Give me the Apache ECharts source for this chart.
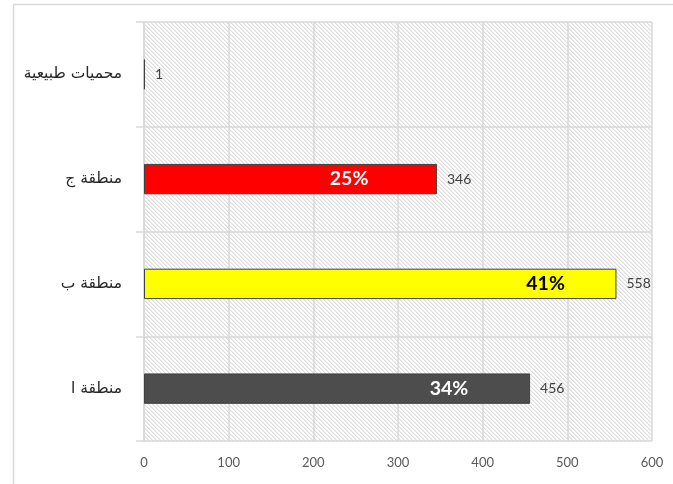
<!DOCTYPE html>
<html><head><meta charset="utf-8">
<script src="https://cdn.jsdelivr.net/npm/echarts@6/dist/echarts.min.js"></script>
<style>html,body{margin:0;padding:0;background:#fff}#c{width:673px;height:484px}</style>
</head><body><div id="c"></div>
<script>
const categories = ['منطقة ا', 'منطقة ب', 'منطقة ج', 'محميات طبيعية'];
const values = [456, 558, 346, 1];
const percents = ['34%', '41%', '25%', ''];
const xTicks = [0, 100, 200, 300, 400, 500, 600];

const barColors = ['#4d4d4d', '#ffff00', '#ff0000', '#7f7f7f'];
const pctColors = ['#ffffff', '#000000', '#ffffff', '#ffffff'];
const pctPos = [79, 85, 70, 0];

function hatch() {
  const c = document.createElement('canvas');
  c.width = 4; c.height = 4;
  const g = c.getContext('2d');
  g.fillStyle = '#ffffff'; g.fillRect(0, 0, 4, 4);
  g.fillStyle = '#dcdcdc';
  for (let i = 0; i < 4; i++) { g.fillRect(i, i, 1, 1); }
  g.fillStyle = '#efefef';
  for (let i = 0; i < 4; i++) { g.fillRect((i + 1) % 4, i, 1, 1); }
  return c;
}

const chart = echarts.init(document.getElementById('c'), null, {renderer: 'canvas'});
const grid = '#d9d9d9';
chart.setOption({
  animation: false,
  backgroundColor: '#fff',
  graphic: [{type: 'rect', left: 11, top: 2, shape: {width: 700, height: 520},
    style: {fill: 'none', stroke: '#d9d9d9', lineWidth: 1.5}, silent: true, z: -1}],
  grid: {left: 144, right: 21, top: 22, bottom: 43, show: true,
    backgroundColor: {image: hatch(), repeat: 'repeat'}, borderWidth: 0},
  xAxis: {
    type: 'value', min: xTicks[0], max: xTicks[xTicks.length - 1], interval: 100,
    axisLine: {show: false}, axisTick: {show: false},
    splitLine: {show: true, lineStyle: {color: grid, width: 1.5}},
    axisLabel: {color: '#595959', fontSize: 13, fontFamily: 'Lato, sans-serif', margin: 15,
      formatter: v => xTicks.includes(v) ? String(v) : ''}
  },
  yAxis: {
    type: 'category', data: categories,
    axisLine: {show: true, lineStyle: {color: grid, width: 1.5}},
    axisTick: {show: true, length: 8, lineStyle: {color: grid, width: 1.5}},
    splitLine: {show: true, lineStyle: {color: grid, width: 1.5}},
    axisLabel: {color: '#262626', fontSize: 15.5, fontFamily: 'DejaVu Sans, sans-serif', margin: 22}
  },
  series: [
    {
      type: 'bar', barWidth: '29%',
      data: values.map((v, i) => ({value: v, itemStyle: {color: barColors[i]}})),
      itemStyle: {borderColor: '#404040', borderWidth: 1},
      label: {show: true, position: 'right', distance: 10, color: '#404040', fontSize: 14,
        fontFamily: 'Lato, sans-serif'}
    },
    {
      type: 'bar', barWidth: '29%', barGap: '-100%', silent: true, z: 3,
      data: values.map((v, i) => ({value: v, label: {position: [pctPos[i] + '%', '50%'], color: pctColors[i]}})),
      itemStyle: {color: 'transparent'},
      label: {show: true, align: 'center', verticalAlign: 'middle', fontSize: 19.5, fontWeight: 'bold',
        fontFamily: 'Lato, sans-serif', formatter: p => percents[p.dataIndex]}
    }
  ]
});
</script></body></html>
